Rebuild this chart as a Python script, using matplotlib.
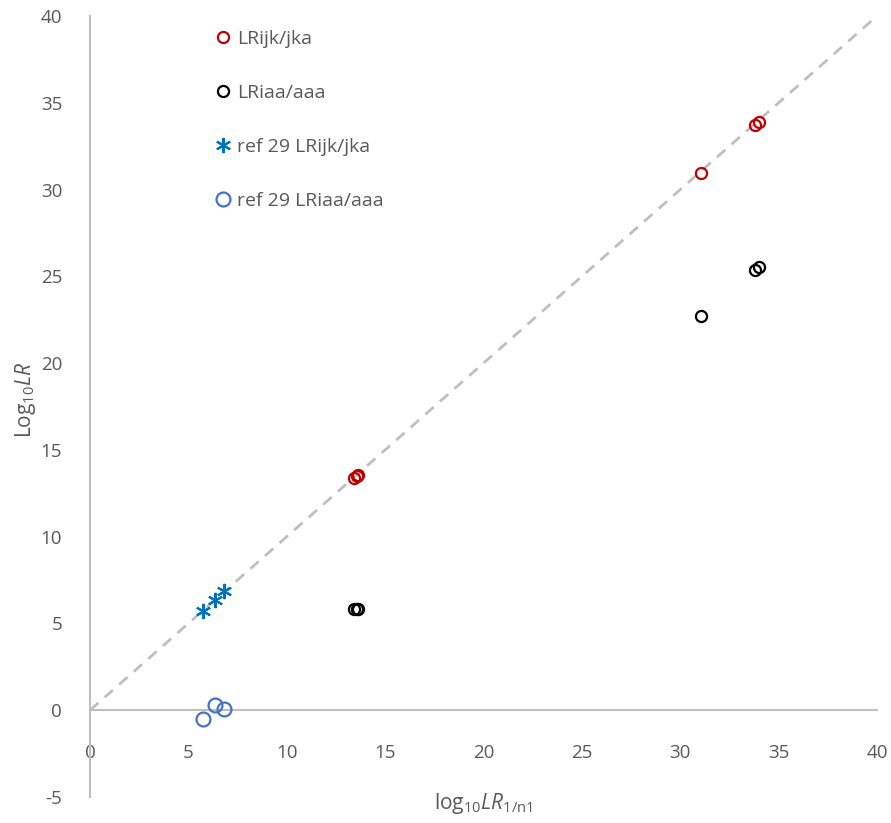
import matplotlib
matplotlib.use("Agg")
import matplotlib.pyplot as plt

plt.rcParams['font.family'] = ['Open Sans', 'DejaVu Sans']
plt.rcParams['mathtext.fontset'] = 'custom'
plt.rcParams['mathtext.rm'] = 'Open Sans'
plt.rcParams['mathtext.it'] = 'Open Sans:italic'
plt.rcParams['axes.unicode_minus'] = False

# data
jk_x = [31.05, 33.8, 34.0, 13.42, 13.55, 13.62]
jk_y = [30.95, 33.7, 33.9, 13.37, 13.47, 13.54]
aa_x = [31.05, 33.8, 34.0, 13.42, 13.55, 13.62]
aa_y = [22.7, 25.36, 25.53, 5.82, 5.84, 5.86]
ref_jk_x = [5.74, 6.35, 6.81]
ref_jk_y = [5.71, 6.34, 6.86]
ref_aa_x = [5.74, 6.35, 6.81]
ref_aa_y = [-0.52, 0.29, 0.06]

x_ticks = [0, 5, 10, 15, 20, 25, 30, 35, 40]
y_ticks = [-5, 0, 5, 10, 15, 20, 25, 30, 35, 40]

grey = "#BFBFBF"
text_grey = "#595959"

fig = plt.figure(figsize=(8.91, 8.23), dpi=100)
ax = fig.add_axes([90 / 891, 1 - 797 / 823, 787 / 891, 781 / 823])

ax.plot([0, 40], [0, 40], ls=(0, (4, 3)), color=grey, lw=2, zorder=1)

ax.plot(jk_x, jk_y, ls="none", marker="o", ms=8, mfc="none", mec="#C00000",
        mew=1.6, label="LRijk/jka", zorder=3)
ax.plot(aa_x, aa_y, ls="none", marker="o", ms=8, mfc="none", mec="#000000",
        mew=1.6, label="LRiaa/aaa", zorder=3)
ax.plot(ref_jk_x, ref_jk_y, ls="none", marker=(6, 2, 0), ms=11, mec="#0070C0",
        mew=1.5, label="ref 29 LRijk/jka", zorder=3)
ax.plot(ref_aa_x, ref_aa_y, ls="none", marker="o", ms=10, mfc="none", mec="#4472C4",
        mew=1.6, label="ref 29 LRiaa/aaa", zorder=3)

ax.set_xlim(0, 40)
ax.set_ylim(-5, 40)
ax.set_xticks(x_ticks)
ax.set_yticks(y_ticks)

for side in ["top", "right"]:
    ax.spines[side].set_visible(False)
ax.spines["left"].set_position(("data", 0))
ax.spines["bottom"].set_position(("data", 0))
for side in ["left", "bottom"]:
    ax.spines[side].set_color(grey)
    ax.spines[side].set_linewidth(1.5)

ax.tick_params(axis="both", length=0, labelsize=13.5, labelcolor=text_grey)
ax.tick_params(axis="x", pad=24)
ax.tick_params(axis="y", pad=20)

fig.text(483 / 891, 1 - 803 / 823, r"log$_{10}$$\it{LR}$$_{1/\mathrm{n1}}$",
         ha="center", va="center", fontsize=15, color=text_grey)
fig.text(25 / 891, 1 - 400 / 823, r"Log$_{10}$$\it{LR}$",
         ha="center", va="center", rotation=90, fontsize=15, color=text_grey)

leg = ax.legend(loc="upper left", bbox_to_anchor=(207 / 891, 1 - 22 / 823),
                bbox_transform=fig.transFigure, frameon=False, fontsize=14,
                labelspacing=1.85, handlelength=0.8, handletextpad=0.35,
                borderaxespad=0)
for t in leg.get_texts():
    t.set_color(text_grey)

fig.savefig("out.png", dpi=100)
